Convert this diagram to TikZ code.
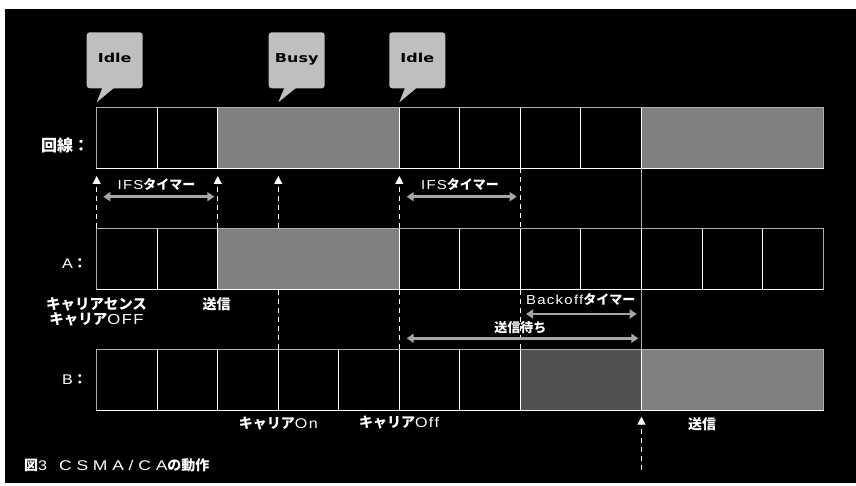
\documentclass[tikz,border=0pt]{standalone}
\usepackage{fontspec}
\usetikzlibrary{arrows.meta}
\newfontfamily\jpfont{Noto Sans CJK JP}
\newfontfamily\ltfont{Liberation Sans}[FakeStretch=1.15,LetterSpace=10]
\newfontfamily\capfont{Liberation Sans}[FakeStretch=1.25,LetterSpace=34]
\newfontfamily\blkfont{DejaVu Sans}[FakeStretch=1.3]
\newcommand\jpb[1]{{\jpfont\bfseries #1}}
\newcommand\lat[1]{{\ltfont #1}}
\definecolor{callfill}{HTML}{BFBFBF}
\definecolor{busyc}{HTML}{808080}
\definecolor{darkc}{HTML}{505050}
\definecolor{arrowc}{HTML}{A6A6A6}
\definecolor{framec}{HTML}{B0B0B0}
\begin{document}
\begin{tikzpicture}[x=1pt,y=-1pt,
  cell/.style={draw=white,line width=1pt,minimum height=61pt,minimum width=60.53pt,inner sep=0pt,outer sep=0pt,anchor=north west},
  triple/.style={fill=busyc,minimum width=181.59pt},
  double/.style={fill=darkc,minimum width=121.06pt},
  frameline/.style={draw=framec,line width=1pt},
  callbox/.style={fill=callfill,rounded corners=3pt,minimum width=56pt,minimum height=56pt,inner sep=0pt,
    font=\blkfont\bfseries\fontsize{12.3}{14}\selectfont,text=black,text height=9pt,text depth=4.5pt},
  markline/.style={draw=white,line width=1pt,dash pattern=on 5pt off 4pt,-{Triangle[width=8pt,length=8pt]}},
  dashline/.style={draw=white,line width=1pt,dash pattern=on 5pt off 4pt},
  solidline/.style={draw=framec,line width=1pt},
  dbl/.style={draw=arrowc,line width=2.6pt,{Triangle[width=9pt,length=7pt]}-{Triangle[width=9pt,length=7pt]}},
  lbl/.style={text=white,inner sep=0pt,font=\fontsize{13}{15}\selectfont},
  big/.style={font=\fontsize{14}{15}\selectfont}
]
\fill[white] (0,0) rectangle (856,486);
\useasboundingbox (0,0) rectangle (856,486);
\fill[black] (5,9) rectangle (856,483);

% column positions
\foreach \i in {0,...,12} \coordinate (x\i) at ({96.7+60.53*\i},0);
\coordinate (tipy) at (0,176);
\coordinate (tipc) at (0,102.3);
\coordinate (tipb) at (0,416.7);
\coordinate (endb) at (0,470);

% line row
\foreach \i in {0,1,5,6,7,8} \node[cell] (L\i) at ({96.7+60.53*\i},107.3) {};
\node[cell,triple] (L2) at (217.76,107.3) {};
\node[cell,triple] (L9) at (641.47,107.3) {};
\draw[frameline] (L0.south west) -- (L0.north west) -- (L9.north east) -- (L9.south east);

% A row
\foreach \i in {0,1,5,6,7,8,9,10,11} \node[cell] (A\i) at ({96.7+60.53*\i},228.5) {};
\node[cell,triple] (A2) at (217.76,228.5) {};
\draw[frameline] (A0.south west) -- (A0.north west) -- (A11.north east) -- (A11.south east);

% B row
\foreach \i in {0,...,6} \node[cell] (B\i) at ({96.7+60.53*\i},349.3) {};
\node[cell,double] (B7) at (520.41,349.3) {};
\node[cell,triple] (B9) at (641.47,349.3) {};
\draw[frameline] (B0.south west) -- (B0.north west) -- (B9.north east) -- (B9.south east);

% callouts
\node[callbox] (idle1) at (114.7,60.3) {Idle};
\node[callbox] (busy1) at (296.7,60.3) {Busy};
\node[callbox] (idle2) at (417.3,60.3) {Idle};
\fill[callfill] ([xshift=16pt,yshift=1pt]idle1.south west) -- (x0 |- tipc) -- ([xshift=28pt,yshift=1pt]idle1.south west) -- cycle;
\fill[callfill] ([xshift=16pt,yshift=1pt]busy1.south west) -- (x3 |- tipc) -- ([xshift=28pt,yshift=1pt]busy1.south west) -- cycle;
\fill[callfill] ([xshift=16pt,yshift=1pt]idle2.south west) -- (x5 |- tipc) -- ([xshift=28pt,yshift=1pt]idle2.south west) -- cycle;

% markers and guide lines
\draw[markline] (x0 |- A0.north) -- (x0 |- tipy);
\draw[markline] (x2 |- A2.north) -- (x2 |- tipy);
\draw[markline] (x3 |- A2.north) -- (x3 |- tipy);
\draw[markline] (x5 |- A5.north) -- (x5 |- tipy);
\draw[dashline] (x3 |- A2.south) -- (x3 |- B3.north);
\draw[dashline] (x5 |- A5.south) -- (x5 |- B5.north);
\draw[dashline] (x7 |- L7.south) -- (x7 |- A7.north);
\draw[dashline] (x7 |- A7.south) -- (x7 |- B7.north);
\draw[solidline] (x9 |- L9.south) -- (x9 |- A9.north);
\draw[solidline] (x9 |- A9.south) -- (x9 |- B9.north);
\draw[markline] (x9 |- endb) -- (x9 |- tipb);

% double arrows
\coordinate (i1a) at (103.3,196.7); \coordinate (i1b) at (214.3,196.7);
\coordinate (i2a) at (406.7,196.7); \coordinate (i2b) at (516.7,196.7);
\coordinate (boa) at (526,314);     \coordinate (bob) at (636.7,314);
\coordinate (swa) at (406.7,338.3); \coordinate (swb) at (638.3,338.3);
\draw[dbl] (i1a) -- (i1b);
\draw[dbl] (i2a) -- (i2b);
\draw[dbl] (boa) -- (bob);
\draw[dbl] (swa) -- (swb);

% labels
\node[lbl,anchor=west] (rline) at (41,145) {\fontsize{16}{18}\selectfont\jpb{回線：}};
\node[lbl,big,anchor=west] (ra) at (62,264) {\lat{A}\jpb{：}};
\node[lbl,big,anchor=west] (rb) at (62,380) {\lat{B}\jpb{：}};
\node[lbl] (ifs1) at (156.5,184) {\lat{IFS}\jpb{タイマー}};
\node[lbl] (ifs2) at (460,184) {\lat{IFS}\jpb{タイマー}};
\node[lbl] (bo) at (580.7,299.5) {\lat{Backoff}\jpb{タイマー}};
\node[lbl] (sw) at (520.3,327.3) {\jpb{送信待ち}};
\node[lbl,align=center,font=\fontsize{14.5}{15}\selectfont] (cs) at (96.5,312) {\jpb{キャリアセンス}\\\jpb{キャリア}\lat{OFF}};
\node[lbl,big] (sa) at (216.7,304) {\jpb{送信}};
\node[lbl,big] (con) at (278.3,423.3) {\jpb{キャリア}\lat{On}};
\node[lbl,big] (coff) at (399,423) {\jpb{キャリア}\lat{Off}};
\node[lbl,big] (sb) at (702,424) {\jpb{送信}};
\node[lbl,big,anchor=west] (cap) at (24,465) {\jpb{図}\lat{3}\hspace{12pt}{\capfont CSMA/CA}\jpb{の動作}};
\end{tikzpicture}
\end{document}
